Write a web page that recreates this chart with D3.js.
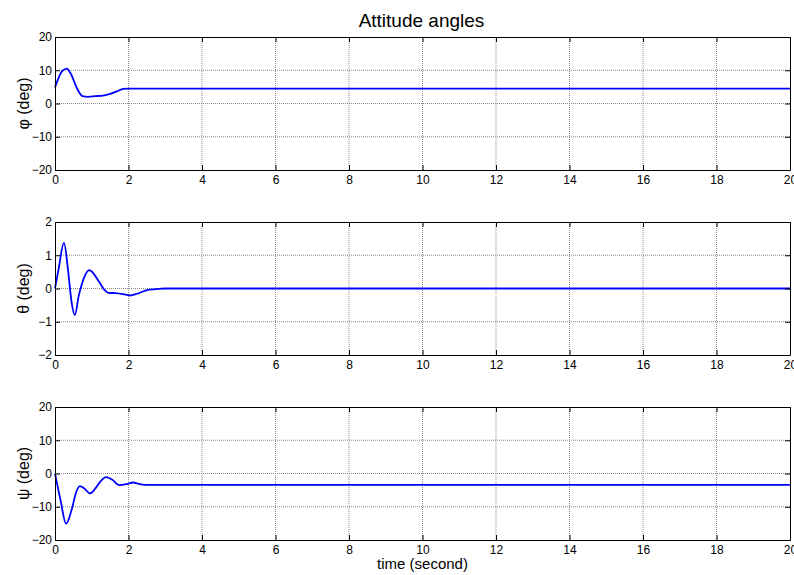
<!DOCTYPE html>
<html>
<head>
<meta charset="utf-8">
<script src="https://cdn.jsdelivr.net/npm/d3@7"></script>
<style>
  body { margin: 0; background: #fff; }
  svg { font-family: "Liberation Sans", Arial, sans-serif; }
</style>
</head>
<body>
<svg width="794" height="575"></svg>
<script>
// time axis ticks
var timeTicks = [0, 2, 4, 6, 8, 10, 12, 14, 16, 18, 20];

// roll angle phi
var phiTime = [0, 0.1, 0.2, 0.32, 0.45, 0.6, 0.75, 0.9, 1.1, 1.3, 1.5, 1.7, 1.85, 2.0, 20];
var phiDeg = [4.8, 7.8, 9.8, 10.5, 8.5, 4.5, 2.2, 2.0, 2.2, 2.4, 2.9, 3.7, 4.4, 4.5, 4.5];

// pitch angle theta
var thetaTime = [0, 0.1, 0.245, 0.35, 0.45, 0.54, 0.65, 0.8, 0.93, 1.05, 1.2, 1.35, 1.45, 1.65, 1.85, 2.04, 2.25, 2.5, 2.75, 3.0, 20];
var thetaDeg = [0, 0.6, 1.38, 0.6, -0.4, -0.8, -0.2, 0.35, 0.55, 0.45, 0.2, -0.05, -0.13, -0.14, -0.17, -0.21, -0.15, -0.05, -0.02, 0, 0];

// yaw angle psi
var psiTime = [0, 0.15, 0.3, 0.45, 0.58, 0.68, 0.8, 0.95, 1.1, 1.25, 1.39, 1.55, 1.75, 1.95, 2.13, 2.3, 2.45, 20];
var psiDeg = [0, -8, -15.1, -11, -5.5, -3.8, -4.5, -6, -4.5, -2.2, -1.1, -1.8, -3.5, -3.2, -2.7, -3.2, -3.4, -3.4];

var panels = [
  { label: 'φ (deg)', time: phiTime, vals: phiDeg, domain: [-20, 20], ticks: [-20, -10, 0, 10, 20], top: 37, bottom: 170 },
  { label: 'θ (deg)', time: thetaTime, vals: thetaDeg, domain: [-2, 2], ticks: [-2, -1, 0, 1, 2], top: 222, bottom: 355 },
  { label: 'ψ (deg)', time: psiTime, vals: psiDeg, domain: [-20, 20], ticks: [-20, -10, 0, 10, 20], top: 407, bottom: 540 },
];

var svg = d3.select('svg');
var left = 55, right = 790, tickLen = 5;
var x = d3.scaleLinear().domain([0, 20]).range([left, right]);
var fmt = d3.format('d');

panels.forEach(function(p) {
  var y = d3.scaleLinear().domain(p.domain).range([p.bottom, p.top]);
  var g = svg.append('g');

  // dotted grid
  g.selectAll('.gx').data(timeTicks.slice(1, -1)).enter().append('line')
    .attr('x1', x).attr('x2', x).attr('y1', p.top).attr('y2', p.bottom)
    .attr('stroke', '#8a8a8a').attr('stroke-dasharray', '1,1');
  g.selectAll('.gy').data(p.ticks.slice(1, -1)).enter().append('line')
    .attr('y1', y).attr('y2', y).attr('x1', left).attr('x2', right)
    .attr('stroke', '#8a8a8a').attr('stroke-dasharray', '1,1');

  // data line
  var pts = p.time.map(function(t, i) { return [t, p.vals[i]]; });
  g.append('path').datum(pts)
    .attr('fill', 'none').attr('stroke', '#0000ff').attr('stroke-width', 1.8)
    .attr('d', d3.line().curve(d3.curveMonotoneX)
      .x(function(d) { return x(d[0]); })
      .y(function(d) { return y(d[1]); }));

  // axes - matlab style, ticks inside on every side
  var axB = g.append('g').attr('transform', 'translate(0,' + p.bottom + ')')
    .call(d3.axisBottom(x).tickValues(timeTicks).tickFormat(fmt).tickSizeInner(-tickLen).tickSizeOuter(0).tickPadding(5));
  var axT = g.append('g').attr('transform', 'translate(0,' + p.top + ')')
    .call(d3.axisTop(x).tickValues(timeTicks).tickSizeInner(-tickLen).tickSizeOuter(0).tickFormat(''));
  var axL = g.append('g').attr('transform', 'translate(' + left + ',0)')
    .call(d3.axisLeft(y).tickValues(p.ticks).tickFormat(fmt).tickSizeInner(-tickLen).tickSizeOuter(0).tickPadding(3));
  var axR = g.append('g').attr('transform', 'translate(' + right + ',0)')
    .call(d3.axisRight(y).tickValues(p.ticks).tickSizeInner(-tickLen).tickSizeOuter(0).tickFormat(''));

  [axB, axT, axL, axR].forEach(function(a) {
    a.select('.domain').attr('stroke', '#000');
    a.selectAll('line').attr('stroke', '#000');
    a.selectAll('text').attr('font-size', 12).attr('fill', '#000')
      .attr('font-family', '"Liberation Sans", Arial, sans-serif');
  });

  g.append('text')
    .attr('transform', 'translate(29,' + ((p.top + p.bottom) / 2) + ') rotate(-90)')
    .attr('text-anchor', 'middle').attr('font-size', 16).text(p.label);
});

svg.append('text').attr('x', (left + right) / 2 - 1).attr('y', 27)
  .attr('text-anchor', 'middle').attr('font-size', 19).text('Attitude angles');

svg.append('text').attr('x', (left + right) / 2).attr('y', 569)
  .attr('text-anchor', 'middle').attr('font-size', 15).text('time (second)');
</script>
</body>
</html>
